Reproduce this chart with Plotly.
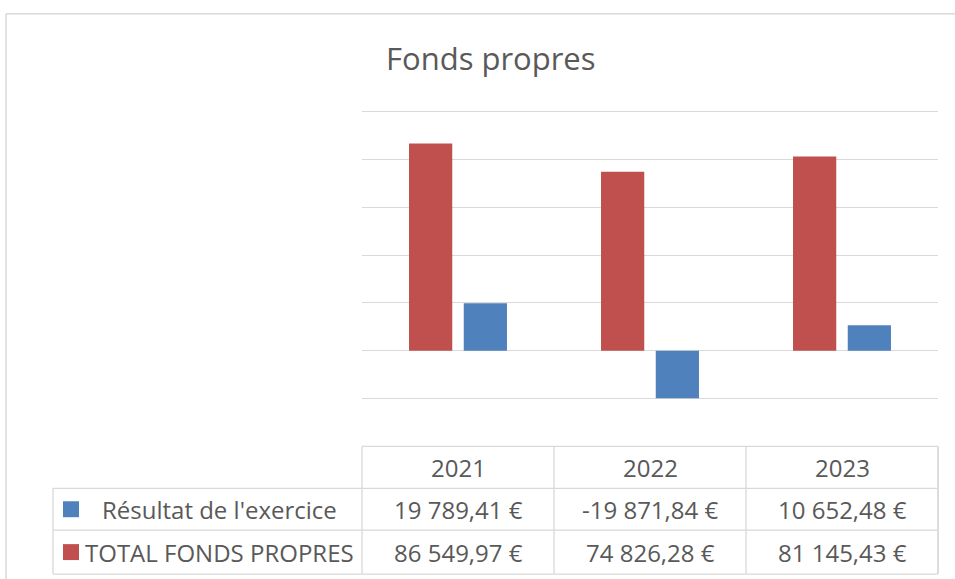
import plotly.graph_objects as go

# ---- data ----
years = ["2021", "2022", "2023"]
resultat = [19789.41, -19871.84, 10652.48]
total_fp = [86549.97, 74826.28, 81145.43]
series_names = ["Résultat de l'exercice", "TOTAL FONDS PROPRES"]
title_text = "Fonds propres"
y_min, y_max, y_step = -20000, 100000, 20000

# ---- style ----
W, H = 955, 579
PL, PR = 362, 938
GRID_TOP, GRID_BOT = 111, 399          # pixel y of y_max / y_min gridlines
k = (GRID_BOT - GRID_TOP) / (y_max - y_min)
pad_units = 600
PT = GRID_TOP - pad_units * k
PB = GRID_BOT + pad_units * k
BLUE = "#4F81BD"
RED = "#C0504D"
TXT = "#595959"
GRID = "#D9D9D9"
FONT = "Open Sans"

def px(x):  # pixel x -> paper x
    return (x - PL) / (PR - PL)

def py(y):  # pixel y -> paper y
    return (PB - y) / (PB - PT)

def fmt(v):
    s = f"{v:,.2f}".replace(",", " ").replace(".", ",")
    return s + " €"

fig = go.Figure()
fig.add_trace(go.Bar(x=years, y=total_fp, name=series_names[1],
                     marker=dict(color=RED, line=dict(width=0))))
fig.add_trace(go.Bar(x=years, y=resultat, name=series_names[0],
                     marker=dict(color=BLUE, line=dict(width=0))))

shapes = []
annotations = []

row_y = [447, 489, 531, 575]
legend_left = 53
n = len(years)

def line(x0, y0, x1, y1, color=GRID, w=1.3):
    shapes.append(dict(type="line", xref="paper", yref="paper",
                       x0=px(x0), y0=py(y0), x1=px(x1), y1=py(y1),
                       line=dict(color=color, width=w)))

line(PL, row_y[0], PR, row_y[0])
for yy in row_y[1:]:
    line(legend_left, yy, PR, yy)
line(legend_left, row_y[1], legend_left, row_y[3])
for i in range(n + 1):
    xx = PL + i * (PR - PL) / n
    line(xx, row_y[0], xx, row_y[3], w=1.8 if i == n else 1.3)

rows = [resultat, total_fp]
for i, yr in enumerate(years):
    # category axis: annotation x uses the category index
    annotations.append(dict(x=i, xref="x", y=py((row_y[0] + row_y[1]) / 2), yref="paper",
                            text=yr, showarrow=False, xanchor="center", yanchor="middle",
                            font=dict(family=FONT, size=24, color=TXT)))
    for r, vals in enumerate(rows):
        yc = (row_y[r + 1] + row_y[r + 2]) / 2
        annotations.append(dict(x=i, xref="x", y=py(yc), yref="paper",
                                text=fmt(vals[i]), showarrow=False,
                                xanchor="center", yanchor="middle",
                                font=dict(family=FONT, size=24, color=TXT)))

leg_colors = [BLUE, RED]
for r, name in enumerate(series_names):
    yc = (row_y[r + 1] + row_y[r + 2]) / 2
    shapes.append(dict(type="rect", xref="paper", yref="paper",
                       x0=px(63), x1=px(79), y0=py(yc - 8), y1=py(yc + 8),
                       fillcolor=leg_colors[r], line=dict(width=0)))
    annotations.append(dict(x=px(219), xref="paper", y=py(yc), yref="paper",
                            text=name, showarrow=False, xanchor="center", yanchor="middle",
                            font=dict(family=FONT, size=24, color=TXT)))

# outer chart border
line(6, H + 5, 6, 13, color=GRID, w=1.5)
line(6, 13, W + 5, 13, color=GRID, w=1.5)

annotations.append(dict(x=px(491), xref="paper", y=py(57), yref="paper",
                        text=title_text, showarrow=False, xanchor="center", yanchor="middle",
                        font=dict(family=FONT, size=31, color=TXT)))

fig.update_layout(
    width=W, height=H,
    margin=dict(l=PL, r=W - PR, t=PT, b=H - PB, pad=0),
    paper_bgcolor="white", plot_bgcolor="white",
    barmode="group", bargap=0.43, bargroupgap=0.21,
    showlegend=False,
    shapes=shapes, annotations=annotations,
    xaxis=dict(type="category", range=[-0.5, n - 0.5], autorange=False,
               showticklabels=False, showgrid=False, zeroline=False,
               showline=False, ticks="", fixedrange=True),
    yaxis=dict(range=[y_min - pad_units, y_max + pad_units], autorange=False,
               dtick=y_step, tick0=0,
               showticklabels=False, showgrid=True, gridcolor=GRID, gridwidth=1.3,
               zeroline=True, zerolinecolor=GRID, zerolinewidth=1.3,
               showline=False, ticks="", fixedrange=True),
)

fig.write_html("out.html", config={"displayModeBar": False},
               post_script="document.body.style.margin='0';")
